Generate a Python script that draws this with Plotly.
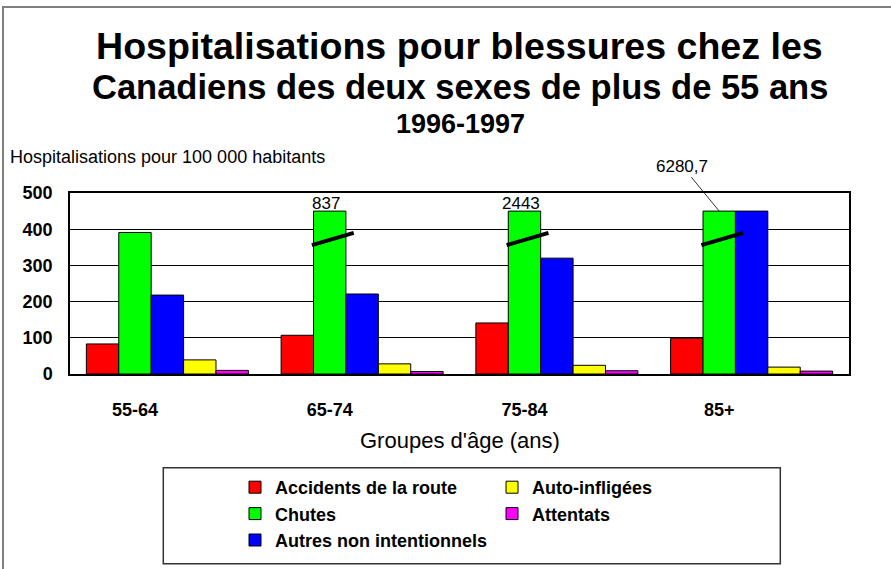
import plotly.graph_objects as go

# ---- data ----
categories = ["55-64", "65-74", "75-84", "85+"]
series_names = ["Accidents de la route", "Chutes", "Autres non intentionnels",
                "Auto-infligées", "Attentats"]
legend_columns = ["c1", "c1", "c1", "c2", "c2"]
accidents = [83, 107, 141, 99]
chutes = [391, 837, 2443, 6280.7]
autres = [218, 221, 320, 450]
auto_infligees = [39, 28, 24, 19]
attentats = [10, 7, 9, 8]
chutes_labels = ["", "837", "2443", "6280,7"]
y_ticks = [0, 100, 200, 300, 400, 500]

AXIS_CAP = 450  # broken-axis display cap
colors = ["#FF0000", "#00FF00", "#0000FF", "#FFFF00", "#FF00FF"]
values = [accidents, chutes, autres, auto_infligees, attentats]

FONT = "Liberation Sans, Arial, sans-serif"
BARGAP = 0.168
n_series = len(series_names)
bar_w = (1 - BARGAP) / n_series
green_off = -(1 - BARGAP) / 2 + 1.5 * bar_w
xs = list(range(len(categories)))

fig = go.Figure()
for name, vals, col, grp in zip(series_names, values, colors, legend_columns):
    fig.add_trace(go.Bar(
        x=xs, y=[min(v, AXIS_CAP) for v in vals], name=f"<b>{name}</b>",
        marker=dict(color=col, line=dict(color="#000000", width=1)),
        legendgroup=grp, hoverinfo="skip"))

shapes = []
annotations = []
# break marks + value labels on capped bars
for i, v in enumerate(chutes):
    cx = i + green_off
    if v > AXIS_CAP:
        shapes.append(dict(type="line", xref="x", yref="y",
                           x0=cx - 0.55 * bar_w, y0=356, x1=cx + 0.74 * bar_w, y1=390,
                           line=dict(color="black", width=4)))
    if chutes_labels[i]:
        if i == len(chutes) - 1:
            annotations.append(dict(x=cx, y=AXIS_CAP, xref="x", yref="y",
                                    text=chutes_labels[i], showarrow=True, arrowhead=0,
                                    arrowwidth=0.8, arrowcolor="black", ax=-37, ay=-45,
                                    font=dict(family=FONT, size=17, color="black")))
        else:
            annotations.append(dict(x=cx - 0.12 * bar_w, y=AXIS_CAP, xref="x", yref="y",
                                    text=chutes_labels[i], showarrow=False,
                                    xanchor="center", yanchor="bottom", yshift=-4,
                                    font=dict(family=FONT, size=17, color="black")))

def py(px):
    return (374 - px) / 181

def pxx(px):
    return (px - 70) / 779

# titles
annotations += [
    dict(x=pxx(459), y=py(46), xref="paper", yref="paper", showarrow=False,
         xanchor="center", yanchor="middle",
         text="<b>Hospitalisations pour blessures chez les</b>",
         font=dict(family=FONT, size=37.6, color="black")),
    dict(x=pxx(459.5), y=py(87), xref="paper", yref="paper", showarrow=False,
         xanchor="center", yanchor="middle",
         text="<b>Canadiens des deux sexes de plus de 55 ans</b>",
         font=dict(family=FONT, size=34.5, color="black")),
    dict(x=pxx(460), y=py(124), xref="paper", yref="paper", showarrow=False,
         xanchor="center", yanchor="middle",
         text="<b>1996-1997</b>",
         font=dict(family=FONT, size=27, color="black")),
    dict(x=pxx(8), y=py(157), xref="paper", yref="paper", showarrow=False,
         xanchor="left", yanchor="middle",
         text="Hospitalisations pour 100 000 habitants",
         font=dict(family=FONT, size=18, color="black")),
    dict(x=pxx(460), y=py(440), xref="paper", yref="paper", showarrow=False,
         xanchor="center", yanchor="middle",
         text="Groupes d'âge (ans)",
         font=dict(family=FONT, size=22, color="black")),
]

# outer frame and legend box
shapes += [
    dict(type="rect", xref="paper", yref="paper", x0=pxx(3), x1=pxx(1000),
         y0=py(700), y1=py(7), line=dict(color="#808080", width=2),
         layer="below"),
    dict(type="rect", xref="paper", yref="paper", x0=pxx(163.3),
         x1=pxx(780.3), y0=py(563.7), y1=py(467.7),
         line=dict(color="#333333", width=1.5), layer="below"),
]

fig.update_layout(
    width=891, height=569,
    margin=dict(l=70, r=42, t=193, b=195, autoexpand=False),
    paper_bgcolor="white", plot_bgcolor="white",
    barmode="group", bargap=BARGAP, bargroupgap=0,
    font=dict(family=FONT, color="black"),
    showlegend=True,
    legend=dict(orientation="h", x=pxx(235), xanchor="left",
                y=py(469), yanchor="top",
                traceorder="grouped", tracegroupgap=4,
                font=dict(family=FONT, size=18, color="black"),
                bgcolor="rgba(0,0,0,0)", borderwidth=0),
    xaxis=dict(range=[-0.5, len(categories) - 0.5],
               tickvals=[i + green_off for i in xs],
               ticktext=[f"<b>{c}</b>" for c in categories],
               tickfont=dict(family=FONT, size=18, color="black"),
               showgrid=False, zeroline=False, showline=True, mirror=True,
               linecolor="black", linewidth=1.5, ticks="", ticklabelstandoff=19),
    yaxis=dict(range=[0, 500], tickvals=y_ticks,
               ticktext=[f"<b>{t}</b>" for t in y_ticks],
               tickfont=dict(family=FONT, size=18, color="black"),
               showgrid=True, gridcolor="black", gridwidth=1,
               zeroline=False, showline=True, mirror=True,
               linecolor="black", linewidth=1.5, ticks="", ticklabelstandoff=12),
    shapes=shapes, annotations=annotations,
)

fig.write_html("out.html", config={"displayModeBar": False},
               post_script="document.body.style.margin='0';document.body.style.overflow='hidden';")
